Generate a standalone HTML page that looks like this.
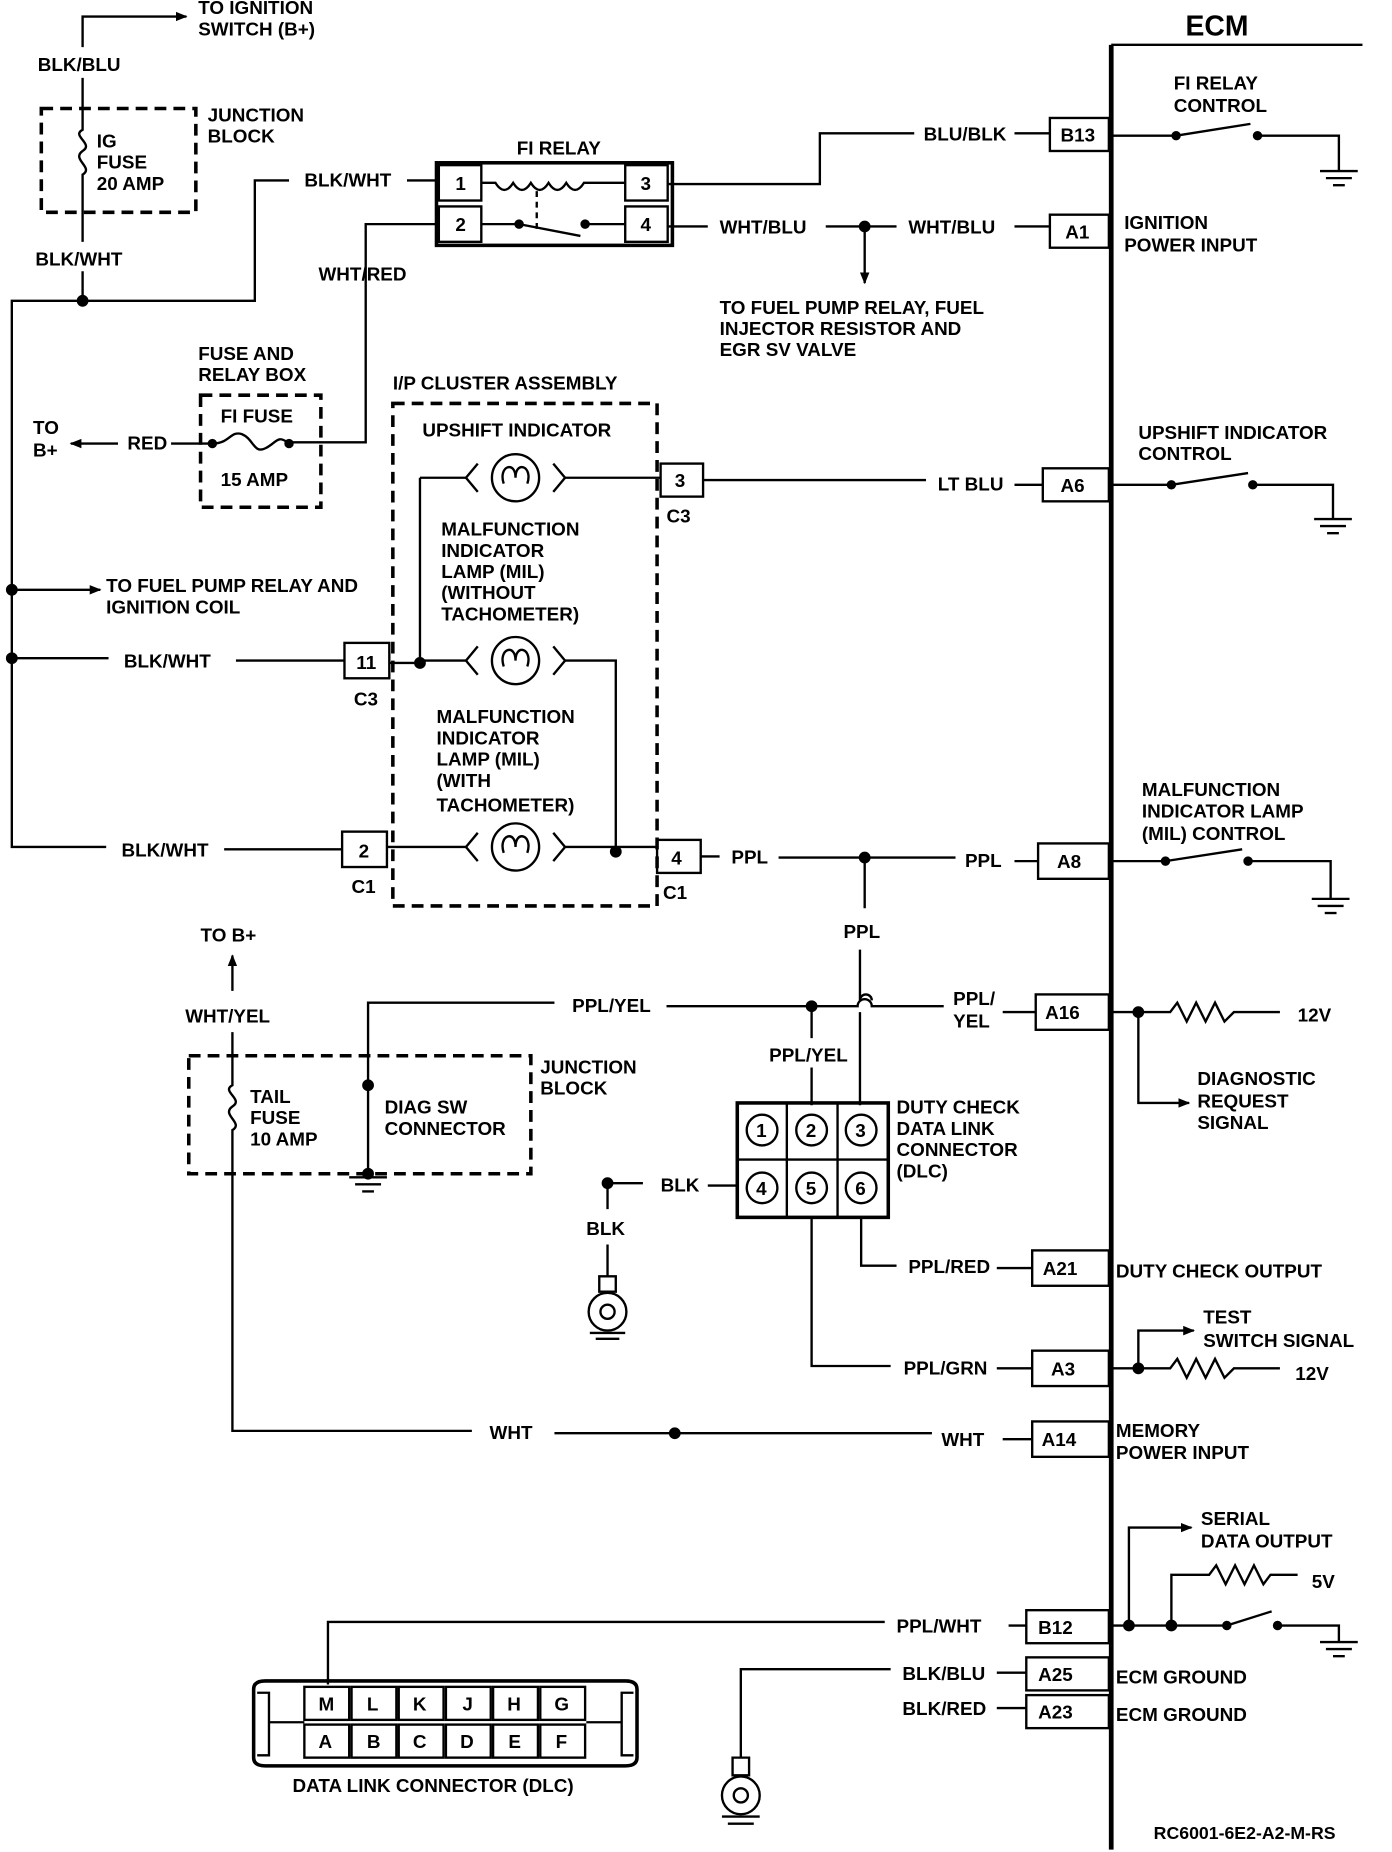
<!DOCTYPE html>
<html><head><meta charset="utf-8"><style>
html,body{margin:0;padding:0;background:#fff}
svg{display:block}
text{font-family:"Liberation Sans",sans-serif;font-weight:bold;font-size:16px;fill:#000}
</style></head><body>
<svg width="1392" height="1852" viewBox="0 0 1180 1570" xmlns="http://www.w3.org/2000/svg">
<defs>
<marker id="ar" markerWidth="10" markerHeight="10" refX="9" refY="5" orient="auto" markerUnits="userSpaceOnUse"><path d="M0,1 L10,5 L0,9 Z" fill="#000"/></marker>
<g id="gnd"><line x1="-16" y1="0" x2="16" y2="0"/><line x1="-11" y1="6" x2="11" y2="6"/><line x1="-5" y1="12" x2="5" y2="12"/></g>
</defs>
<g stroke="#000" stroke-width="2" fill="none">
<line x1="942" y1="38" x2="942" y2="1568" stroke-width="4"/>
<line x1="942" y1="38" x2="1155" y2="38"/>
<rect x="890" y="100" width="50" height="28"/><rect x="890" y="182" width="50" height="28"/>
<rect x="884" y="397" width="56" height="28"/><rect x="880" y="715" width="60" height="30"/>
<rect x="878" y="843" width="62" height="30"/><rect x="875" y="1060" width="65" height="30"/>
<rect x="875" y="1145" width="65" height="30"/><rect x="875" y="1205" width="65" height="30"/>
<rect x="870" y="1365" width="70" height="28"/><rect x="870" y="1405" width="70" height="28"/>
<rect x="870" y="1437" width="70" height="28"/>
<path d="M942,115 H997 M997,115 L1060,105 M1068,115 H1135 V145"/><use href="#gnd" x="1135" y="145"/>
<path d="M942,411 H993 M993,411 L1058,401 M1064,411 H1130 V440"/><use href="#gnd" x="1130" y="440"/>
<path d="M942,730 H988 M988,730 L1053,720 M1060,730 H1128 V762"/><use href="#gnd" x="1128" y="762"/>
<path d="M942,1378 H1040 M1040,1378 L1078,1366 M1085,1378 H1135 V1392"/><use href="#gnd" x="1135" y="1392"/>
<circle cx="997" cy="115" r="3" fill="#000"/><circle cx="1066" cy="115" r="3" fill="#000"/>
<circle cx="993" cy="411" r="3" fill="#000"/><circle cx="1062" cy="411" r="3" fill="#000"/>
<circle cx="988" cy="730" r="3" fill="#000"/><circle cx="1058" cy="730" r="3" fill="#000"/>
<circle cx="1040" cy="1378" r="3" fill="#000"/><circle cx="1083" cy="1378" r="3" fill="#000"/>
<path d="M70,40 V14 H158" marker-end="url(#ar)"/>
<rect x="35" y="92" width="131" height="88" stroke-dasharray="10,6" stroke-width="3"/>
<path d="M70,66 V110 C60,115 80,122 70,128 C60,135 80,142 70,148 V205 M70,230 V255"/>
<path d="M70,255 H10 V718 H90 M190,720 H290 M70,255 H216 V153 H245 M345,153 H372"/>
<circle cx="70" cy="255" r="4" fill="#000"/>
<path d="M10,500 H85" marker-end="url(#ar)"/><circle cx="10" cy="500" r="4" fill="#000"/>
<path d="M10,558 H92 M200,560 H292"/><circle cx="10" cy="558" r="4" fill="#000"/>
<rect x="370" y="138" width="200" height="70" stroke-width="3"/>
<rect x="372" y="140" width="36" height="30"/><rect x="372" y="175" width="36" height="30"/>
<rect x="530" y="140" width="36" height="30"/><rect x="530" y="175" width="36" height="30"/>
<path d="M408,155 H420 C425,163 430,163 435,155 C440,163 445,163 450,155 C455,163 460,163 465,155 C470,163 475,163 480,155 C485,163 490,163 495,155 H530"/>
<line x1="455" y1="162" x2="455" y2="195" stroke-dasharray="5,4"/>
<path d="M408,190 H440 M440,190 L492,200 M496,190 H530"/>
<circle cx="440" cy="190" r="3" fill="#000"/><circle cx="496" cy="190" r="3" fill="#000"/>
<path d="M566,156 H695 V113 H775 M860,113 H890"/>
<path d="M566,192 H600 M700,192 H760 M860,192 H890"/>
<circle cx="733" cy="192" r="4" fill="#000"/><path d="M733,192 V240" marker-end="url(#ar)"/>
<path d="M372,190 H310 V375 H245"/>
<rect x="170" y="335" width="102" height="95" stroke-dasharray="10,6" stroke-width="3"/>
<path d="M145,376 H180 M180,376 C195,376 195,365 205,368 C215,372 215,385 225,380 C235,375 235,368 245,376"/>
<circle cx="180" cy="376" r="3" fill="#000"/><circle cx="245" cy="376" r="3" fill="#000"/>
<path d="M100,376 H60" marker-end="url(#ar)"/>
<rect x="333" y="342" width="224" height="426" stroke-dasharray="10,6" stroke-width="3"/>
<rect x="292" y="545" width="38" height="30"/><rect x="290" y="705" width="38" height="30"/>
<rect x="560" y="393" width="36" height="28"/><rect x="557" y="712" width="37" height="28"/>
<g id="lamp"><circle cx="437" cy="405" r="20"/><path d="M405,393 L395,405 L405,417 M469,393 L479,405 L469,417 M427,410 C422,395 437,390 437,405 C437,390 452,395 447,410"/></g>
<use href="#lamp" y="155"/><use href="#lamp" y="313"/>
<path d="M330,562 H356 M356,405 V562 M356,405 H395 M356,560 H395 M479,405 H560 M479,560 H522 V722 M328,718 H395 M479,718 H557"/>
<circle cx="356" cy="562" r="4" fill="#000"/><circle cx="522" cy="722" r="4" fill="#000"/>
<path d="M596,407 H785 M860,411 H884"/>
<path d="M594,726 H610 M660,727 H810 M860,730 H880"/>
<circle cx="733" cy="727" r="4" fill="#000"/>
<path d="M733,727 V770 M729,805 V848 A5,5 0 0 1 739,848 M729,858 V937"/>
<path d="M312,920 V850 H470 M565,853 H727 A6,6 0 0 1 739,853 H800 M850,858 H878"/>
<circle cx="312" cy="920" r="4" fill="#000"/>
<circle cx="688" cy="853" r="4" fill="#000"/><path d="M688,853 V880 M688,905 V937"/>
<rect x="625" y="935" width="128" height="97" stroke-width="3"/>
<path d="M667,935 V1032 M710,935 V1032 M625,983 H753"/>
<circle cx="646" cy="958" r="13"/><circle cx="688" cy="958" r="13"/><circle cx="730" cy="958" r="13"/>
<circle cx="646" cy="1007" r="13"/><circle cx="688" cy="1007" r="13"/><circle cx="730" cy="1007" r="13"/>
<path d="M625,1005 H600 M545,1003 H515 V1025"/><circle cx="515" cy="1003" r="4" fill="#000"/>
<path d="M515,1055 V1082 M508,1082 H522 V1095 H508 Z"/><circle cx="515" cy="1112" r="16"/><circle cx="515" cy="1112" r="6"/>
<path d="M500,1130 H530 M505,1135 H525"/>
<path d="M730,1032 V1073 H760 M845,1075 H875"/>
<path d="M688,1032 V1158 H755 M845,1160 H875"/>
<path d="M940,858 H992 L998,850 L1006,866 L1014,850 L1022,866 L1030,850 L1038,866 L1046,858 H1085"/>
<circle cx="965" cy="858" r="4" fill="#000"/><path d="M965,858 V935 H1008" marker-end="url(#ar)"/>
<path d="M940,1160 H992 L998,1152 L1006,1168 L1014,1152 L1022,1168 L1030,1152 L1038,1168 L1046,1160 H1085"/>
<circle cx="965" cy="1160" r="4" fill="#000"/><path d="M965,1160 V1128 H1012" marker-end="url(#ar)"/>
<path d="M197,840 V810" marker-end="url(#ar)"/>
<rect x="160" y="895" width="290" height="100" stroke-dasharray="10,6" stroke-width="3"/>
<path d="M197,875 V920 C187,925 207,932 197,938 C187,945 207,952 197,958 V1213 H400 M470,1215 H790 M850,1220 H875"/>
<circle cx="572" cy="1215" r="4" fill="#000"/>
<path d="M312,920 V995"/><circle cx="312" cy="995" r="4" fill="#000"/><use href="#gnd" x="312" y="998"/>
<path d="M278,1428 V1375 H750 M855,1378 H870"/>
<circle cx="957" cy="1378" r="4" fill="#000"/><circle cx="993" cy="1378" r="4" fill="#000"/>
<path d="M957,1378 V1295 H1010" marker-end="url(#ar)"/>
<path d="M993,1378 V1335 H1025 L1031,1327 L1039,1343 L1047,1327 L1055,1343 L1063,1327 L1071,1343 L1077,1335 H1100"/>
<path d="M628,1490 V1415 H755 M845,1418 H870 M845,1448 H870"/>
<path d="M621,1490 H635 V1505 H621 Z"/><circle cx="628" cy="1522" r="16"/><circle cx="628" cy="1522" r="6"/>
<path d="M612,1540 H644 M617,1546 H639"/>
<path d="M215,1432 Q215,1425 225,1425 H530 Q540,1425 540,1432 V1490 Q540,1497 530,1497 H225 Q215,1497 215,1490 Z" stroke-width="3"/>
<path d="M218,1435 H228 V1488 H218 M537,1435 H527 V1488 H537"/>
<line x1="228" y1="1460" x2="258" y2="1460"/><line x1="497" y1="1460" x2="527" y2="1460"/>
<g id="pins"><rect x="258" y="1430" width="38" height="28"/><rect x="298" y="1430" width="38" height="28"/><rect x="338" y="1430" width="38" height="28"/><rect x="378" y="1430" width="38" height="28"/><rect x="418" y="1430" width="38" height="28"/><rect x="458" y="1430" width="38" height="28"/></g>
<use href="#pins" y="32"/>
</g>
<text x="1005" y="30" style="font-size:24px">ECM</text>
<text x="168" y="12">TO IGNITION</text><text x="168" y="30">SWITCH (B+)</text>
<text x="32" y="60">BLK/BLU</text>
<text x="82" y="125">IG</text><text x="82" y="143">FUSE</text><text x="82" y="161">20 AMP</text>
<text x="176" y="103">JUNCTION</text><text x="176" y="121">BLOCK</text>
<text x="30" y="225">BLK/WHT</text><text x="258" y="158">BLK/WHT</text>
<text x="438" y="131">FI RELAY</text>
<text x="386" y="161">1</text><text x="386" y="196">2</text><text x="543" y="161">3</text><text x="543" y="196">4</text>
<text x="783" y="119">BLU/BLK</text><text x="610" y="198">WHT/BLU</text><text x="770" y="198">WHT/BLU</text>
<text x="899" y="120">B13</text><text x="903" y="202">A1</text><text x="899" y="417">A6</text><text x="896" y="736">A8</text>
<text x="886" y="864">A16</text><text x="884" y="1081">A21</text><text x="891" y="1166">A3</text><text x="883" y="1226">A14</text>
<text x="880" y="1385">B12</text><text x="880" y="1425">A25</text><text x="880" y="1457">A23</text>
<text x="995" y="76">FI RELAY</text><text x="995" y="95">CONTROL</text>
<text x="953" y="194">IGNITION</text><text x="953" y="213">POWER INPUT</text>
<text x="610" y="266">TO FUEL PUMP RELAY, FUEL</text><text x="610" y="284">INJECTOR RESISTOR AND</text><text x="610" y="302">EGR SV VALVE</text>
<text x="270" y="238">WHT/RED</text>
<text x="168" y="305">FUSE AND</text><text x="168" y="323">RELAY BOX</text>
<text x="187" y="358">FI FUSE</text><text x="187" y="412">15 AMP</text>
<text x="28" y="368">TO</text><text x="28" y="387">B+</text><text x="108" y="381">RED</text>
<text x="333" y="330">I/P CLUSTER ASSEMBLY</text>
<text x="358" y="370">UPSHIFT INDICATOR</text>
<text x="965" y="372">UPSHIFT INDICATOR</text><text x="965" y="390">CONTROL</text>
<text x="572" y="413">3</text><text x="565" y="443">C3</text>
<text x="795" y="416">LT BLU</text>
<text x="374" y="454">MALFUNCTION</text><text x="374" y="472">INDICATOR</text><text x="374" y="490">LAMP (MIL)</text><text x="374" y="508">(WITHOUT</text><text x="374" y="526">TACHOMETER)</text>
<text x="90" y="502">TO FUEL PUMP RELAY AND</text><text x="90" y="520">IGNITION COIL</text>
<text x="105" y="566">BLK/WHT</text><text x="302" y="567">11</text><text x="300" y="598">C3</text>
<text x="370" y="613">MALFUNCTION</text><text x="370" y="631">INDICATOR</text><text x="370" y="649">LAMP (MIL)</text><text x="370" y="667">(WITH</text><text x="370" y="688">TACHOMETER)</text>
<text x="968" y="675">MALFUNCTION</text><text x="968" y="693">INDICATOR LAMP</text><text x="968" y="712">(MIL) CONTROL</text>
<text x="103" y="726">BLK/WHT</text><text x="304" y="727">2</text><text x="298" y="757">C1</text>
<text x="569" y="733">4</text><text x="562" y="762">C1</text>
<text x="620" y="732">PPL</text><text x="818" y="735">PPL</text><text x="715" y="795">PPL</text>
<text x="170" y="798">TO B+</text><text x="157" y="867">WHT/YEL</text>
<text x="485" y="858">PPL/YEL</text><text x="808" y="852">PPL/</text><text x="808" y="871">YEL</text>
<text x="1100" y="866">12V</text>
<text x="652" y="900">PPL/YEL</text>
<text x="458" y="910">JUNCTION</text><text x="458" y="928">BLOCK</text>
<text x="212" y="935">TAIL</text><text x="212" y="953">FUSE</text><text x="212" y="971">10 AMP</text>
<text x="326" y="944">DIAG SW</text><text x="326" y="962">CONNECTOR</text>
<text x="1015" y="920">DIAGNOSTIC</text><text x="1015" y="939">REQUEST</text><text x="1015" y="957">SIGNAL</text>
<text x="760" y="944">DUTY CHECK</text><text x="760" y="962">DATA LINK</text><text x="760" y="980">CONNECTOR</text><text x="760" y="998">(DLC)</text>
<g style="font-size:15px"><text x="641" y="964">1</text><text x="683" y="964">2</text><text x="725" y="964">3</text><text x="641" y="1013">4</text><text x="683" y="1013">5</text><text x="725" y="1013">6</text></g>
<text x="560" y="1010">BLK</text><text x="497" y="1047">BLK</text>
<text x="770" y="1079">PPL/RED</text><text x="946" y="1083">DUTY CHECK OUTPUT</text>
<text x="1020" y="1122">TEST</text><text x="1020" y="1142">SWITCH SIGNAL</text><text x="1098" y="1170">12V</text>
<text x="766" y="1165">PPL/GRN</text>
<text x="415" y="1220">WHT</text><text x="798" y="1226">WHT</text>
<text x="946" y="1218">MEMORY</text><text x="946" y="1237">POWER INPUT</text>
<text x="1018" y="1293">SERIAL</text><text x="1018" y="1312">DATA OUTPUT</text><text x="1112" y="1346">5V</text>
<text x="760" y="1384">PPL/WHT</text><text x="765" y="1424">BLK/BLU</text><text x="765" y="1454">BLK/RED</text>
<text x="946" y="1427">ECM GROUND</text><text x="946" y="1459">ECM GROUND</text>
<g style="font-size:15px"><text x="270" y="1450">M</text><text x="311" y="1450">L</text><text x="350" y="1450">K</text><text x="392" y="1450">J</text><text x="430" y="1450">H</text><text x="470" y="1450">G</text>
<text x="270" y="1482">A</text><text x="311" y="1482">B</text><text x="350" y="1482">C</text><text x="390" y="1482">D</text><text x="431" y="1482">E</text><text x="471" y="1482">F</text></g>
<text x="248" y="1519">DATA LINK CONNECTOR (DLC)</text>
<text x="978" y="1559" style="font-size:15px">RC6001-6E2-A2-M-RS</text>
</svg>
</body></html>
